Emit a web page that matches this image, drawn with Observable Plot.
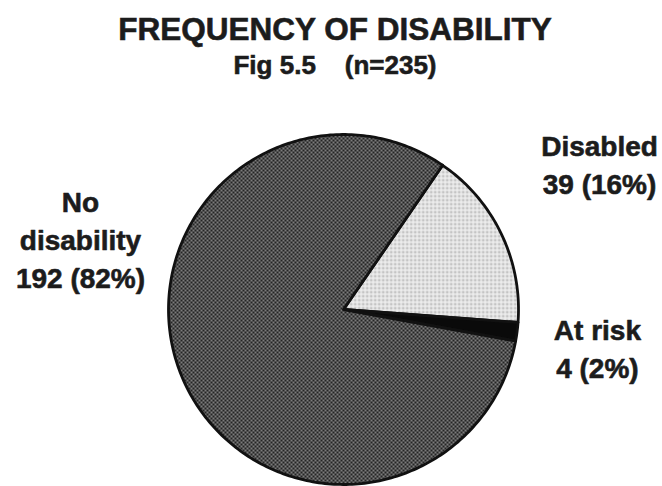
<!DOCTYPE html>
<html>
<head>
<meta charset="utf-8">
<script src="https://cdn.jsdelivr.net/npm/d3@7"></script>
<script src="https://cdn.jsdelivr.net/npm/@observablehq/plot@0.6"></script>
<style>
  html, body { margin: 0; padding: 0; background: #ffffff; }
  #wrap { position: relative; width: 662px; height: 486px; overflow: hidden; font-family: "Liberation Sans", Arial, sans-serif; color: #1c1c1c; }
  #head { position: relative; width: 662px; height: 85px; }
  .t { position: absolute; left: 0; width: 670px; text-align: center; font-weight: bold; line-height: 1; white-space: pre; -webkit-text-stroke: 0.6px #1c1c1c; }
  #title { top: 14px; font-size: 31.5px; }
  #subtitle { top: 52px; font-size: 26px; }
</style>
</head>
<body>
<div id="wrap">
  <div id="head">
    <div class="t" id="title">FREQUENCY OF DISABILITY</div>
    <div class="t" id="subtitle">Fig 5.5    (n=235)</div>
  </div>
  <div id="chart"></div>
</div>
<script>
// Survey responses by disability status
const categories = ["Disabled", "At risk", "No disability"];
const counts = [39, 4, 192];
const percents = [16, 2, 82];
const labelNames = ["Disabled", "At risk", "No\ndisability"];

// Slice fills (hatched halftones defined as SVG patterns below)
const fills = ["url(#lightgrid)", "#0a0a0a", "url(#darkdots)"];

// Pie layout: first slice starts ~34.5° clockwise from 12 o'clock
const startDeg = 34.5;
const pie = d3.pie().sort(null).value(d => d)
  .startAngle(startDeg * Math.PI / 180)
  .endAngle(startDeg * Math.PI / 180 + 2 * Math.PI);
const arcs = pie(counts);

// Polygon outline of each slice in unit-radius coordinates (y up)
const slicePoints = [];
arcs.forEach((a, i) => {
  slicePoints.push({slice: categories[i], fill: fills[i], x: 0, y: 0});
  const steps = Math.max(4, Math.ceil((a.endAngle - a.startAngle) * 180 / Math.PI));
  for (let k = 0; k <= steps; ++k) {
    const t = a.startAngle + (a.endAngle - a.startAngle) * k / steps;
    slicePoints.push({slice: categories[i], fill: fills[i], x: Math.sin(t), y: Math.cos(t)});
  }
});

// Label anchors (unit-radius coordinates, relative to pie centre)
const labelAnchors = [[1.463, 0.84], [1.451, -0.214], [-1.503, 0.41]];
const labels = categories.map((c, i) => ({
  text: `${labelNames[i]}\n${counts[i]} (${percents[i]}%)`,
  x: labelAnchors[i][0],
  y: labelAnchors[i][1]
}));

// Pixel frame: centre at (343, 224) in the SVG, radius 175
const W = 662, H = 401, R = 175, cx = 343, cy = 224;
const xDomain = [-cx / R, (W - cx) / R];
const yDomain = [(cy - H) / R, cy / R];

const svg = Plot.plot({
  width: W,
  height: H,
  margin: 0,
  x: {domain: xDomain, axis: null},
  y: {domain: yDomain, axis: null},
  color: {type: "identity"},
  style: {background: "transparent", overflow: "visible"},
  marks: [
    Plot.line(slicePoints, {
      x: "x", y: "y", z: "slice", fill: "fill",
      curve: "linear-closed",
      stroke: "#111", strokeWidth: 2.8, strokeLinejoin: "round"
    }),
    Plot.text(labels, {
      x: "x", y: "y", text: "text",
      fontFamily: "Liberation Sans, Arial, sans-serif",
      fontSize: 28, fontWeight: "bold", fill: "#1c1c1c",
      stroke: "#1c1c1c", strokeWidth: 0.6,
      lineHeight: 1.36, textAnchor: "middle"
    })
  ]
});

// Halftone textures used by the slices
const ns = "http://www.w3.org/2000/svg";
const defs = document.createElementNS(ns, "defs");
defs.innerHTML = `
  <pattern id="darkdots" width="4" height="4" patternUnits="userSpaceOnUse">
    <rect width="4" height="4" fill="#242424"/>
    <rect x="0" y="0" width="2" height="2" fill="#7c7c7c"/>
    <rect x="2" y="2" width="2" height="2" fill="#7c7c7c"/>
  </pattern>
  <pattern id="lightgrid" width="4" height="4" patternUnits="userSpaceOnUse">
    <rect width="4" height="4" fill="#c4c4c4"/>
    <rect x="0" y="0" width="4" height="1.3" fill="#f2f2f2"/>
    <rect x="0" y="0" width="1.3" height="4" fill="#f2f2f2"/>
  </pattern>`;
svg.insertBefore(defs, svg.firstChild);

document.getElementById("chart").appendChild(svg);
</script>
</body>
</html>
